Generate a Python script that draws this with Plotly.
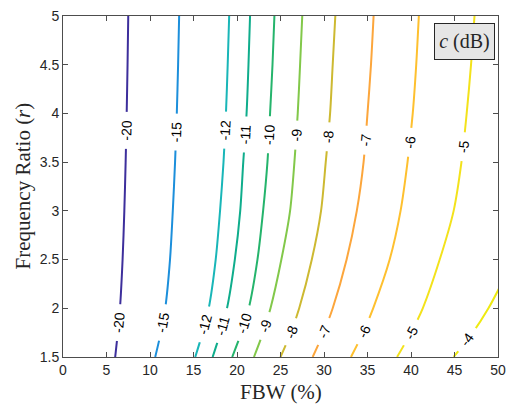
import math
import numpy as np
import plotly.graph_objects as go

# Frequency ratio samples along each constant-c contour
ratio = [1.5, 1.75, 2.0, 2.5, 3.0, 3.5, 4.0, 4.5, 5.0]

# FBW (%) where each contour crosses the ratios above
fbw_m20 = [6.0, 6.3, 6.55, 6.85, 7.05, 7.2, 7.32, 7.42, 7.5]
fbw_m15 = [10.6, 11.25, 11.75, 12.3, 12.62, 12.88, 13.08, 13.23, 13.35]
fbw_m12 = [15.2, 16.05, 16.75, 17.55, 18.05, 18.45, 18.73, 18.93, 19.1]
fbw_m11 = [17.2, 18.1, 18.85, 19.75, 20.37, 20.72, 21.1, 21.32, 21.5]
fbw_m10 = [19.45, 20.5, 21.35, 22.35, 23.0, 23.5, 23.8, 24.08, 24.3]
fbw_m9 = [21.95, 23.0, 23.85, 25.1, 26.1, 26.6, 26.98, 27.25, 27.5]
fbw_m8 = [25.0, 26.2, 27.15, 28.6, 29.66, 30.2, 30.7, 31.0, 31.3]
fbw_m7 = [28.7, 29.95, 31.0, 32.6, 33.77, 34.55, 35.0, 35.4, 35.7]
fbw_m6 = [33.1, 34.5, 35.65, 37.55, 38.8, 39.6, 40.2, 40.6, 40.9]
fbw_m5 = [38.4, 40.0, 41.35, 43.3, 44.9, 45.8, 46.4, 46.9, 47.3]

# The -4 dB contour leaves the plot through the right edge
ratio_m4 = [1.5, 1.75, 2.0, 2.2]
fbw_m4 = [44.9, 47.1, 48.9, 50.1]

levels = [-20, -15, -12, -11, -10, -9, -8, -7, -6, -5, -4]
x_ticks = [0, 5, 10, 15, 20, 25, 30, 35, 40, 45, 50]
y_ticks = [1.5, 2, 2.5, 3, 3.5, 4, 4.5, 5]

colors = ["#3d2f9c", "#1c8fdb", "#19b6b8", "#0fad8c", "#25b46c", "#82c84a",
          "#cdb931", "#fca63c", "#fec02f", "#f3e21b", "#eeea11"]

curves = [
    (ratio, fbw_m20), (ratio, fbw_m15), (ratio, fbw_m12), (ratio, fbw_m11),
    (ratio, fbw_m10), (ratio, fbw_m9), (ratio, fbw_m8), (ratio, fbw_m7),
    (ratio, fbw_m6), (ratio, fbw_m5), (ratio_m4, fbw_m4),
]

# Ratio at which each inline label sits (upper row, lower row)
upper_label_ratio = [3.83, 3.81, 3.83, 3.78, 3.78, 3.78, 3.76, 3.73, 3.70, 3.66, None]
lower_label_ratio = [1.85, 1.85, 1.83, 1.82, 1.85, 1.82, 1.76, 1.76, 1.76, 1.75, 1.68]

W, H = 508, 404
ML, MR, MT, MB = 63, 10, 16, 47
X_RANGE = [0, 50]
Y_RANGE = [1.5, 5]
px_per_x = (W - ML - MR) / (X_RANGE[1] - X_RANGE[0])
px_per_y = (H - MT - MB) / (Y_RANGE[1] - Y_RANGE[0])

fig = go.Figure()

for (r, x), col in zip(curves, colors):
    fig.add_trace(go.Scatter(
        x=x, y=r, mode="lines",
        line=dict(color=col, width=2, shape="spline", smoothing=0.8),
        hoverinfo="skip", showlegend=False,
    ))

label_font = dict(family="Liberation Sans, Arial, sans-serif", size=14, color="black")
nb = "\u00a0"


def add_label(level, r, x, at):
    xa = float(np.interp(at, r, x))
    slope = float(np.interp(at, r, np.gradient(np.array(x), np.array(r))))
    ang = -math.degrees(math.atan2(px_per_y, slope * px_per_x))
    fig.add_annotation(
        x=xa, y=at, xref="x", yref="y", showarrow=False,
        text=f"{nb}{nb}{level}{nb}{nb}", textangle=ang,
        font=label_font, bgcolor="white", borderpad=0,
    )


for lev, (r, x), up, lo in zip(levels, curves, upper_label_ratio, lower_label_ratio):
    if up is not None:
        add_label(lev, r, x, up)
    if lo is not None:
        add_label(lev, r, x, lo)

axis_common = dict(
    showline=True, linecolor="#4d4d4d", linewidth=1, mirror="allticks",
    ticks="inside", ticklen=5, tickwidth=1, tickcolor="#4d4d4d",
    showgrid=False, zeroline=False, automargin=False,
    tickfont=dict(family="Liberation Sans, Arial, sans-serif", size=14, color="#262626"),
)

fig.update_xaxes(range=X_RANGE, tickvals=x_ticks, **axis_common)
fig.update_yaxes(range=Y_RANGE, tickvals=y_ticks, **axis_common)

serif = "Liberation Serif, Times New Roman, serif"
fig.add_annotation(
    x=0.5, y=0, xref="paper", yref="paper", xanchor="center", yanchor="middle",
    yshift=-35, showarrow=False, text="FBW (%)",
    font=dict(family=serif, size=21, color="#262626"),
)
fig.add_annotation(
    x=0, y=0.5, xref="paper", yref="paper", xanchor="center", yanchor="middle",
    xshift=-41, showarrow=False, text="Frequency Ratio (<i>r</i>)", textangle=-90,
    font=dict(family=serif, size=21, color="#262626"),
)
fig.add_annotation(
    x=1, y=1, xref="paper", yref="paper", xanchor="right", yanchor="top",
    xshift=-3, yshift=-7, showarrow=False, text="<i>c</i> (dB)",
    font=dict(family=serif, size=20, color="#262626"),
    bgcolor="#e6e6e6", bordercolor="#262626", borderwidth=1,
    width=57, height=33, borderpad=1,
)

fig.update_layout(
    width=W, height=H,
    margin=dict(l=ML, r=MR, t=MT, b=MB, autoexpand=False),
    plot_bgcolor="white", paper_bgcolor="white",
)

fig.write_html("out.html")
